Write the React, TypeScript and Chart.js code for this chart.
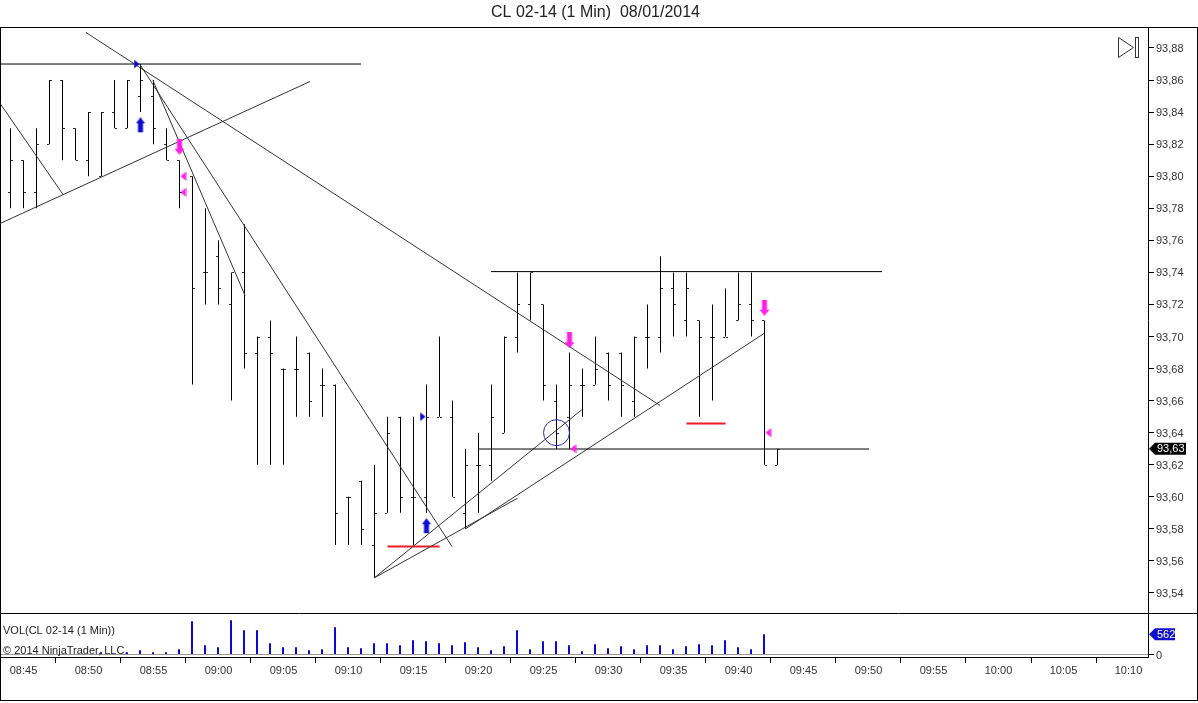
import React, { useEffect, useRef } from "react";
import { Chart, registerables } from "chart.js";

Chart.register(...registerables);

const chartTitle = "CL 02-14 (1 Min)  08/01/2014";
const volumeLabel = "VOL(CL 02-14 (1 Min))";
const copyrightLabel = "© 2014 NinjaTrader, LLC.";

const barTimes = [
  "08:44", "08:45", "08:46", "08:47", "08:48", "08:49", "08:50", "08:51", "08:52", "08:53",
  "08:54", "08:55", "08:56", "08:57", "08:58", "08:59", "09:00", "09:01", "09:02", "09:03",
  "09:04", "09:05", "09:06", "09:07", "09:08", "09:09", "09:10", "09:11", "09:12", "09:13",
  "09:14", "09:15", "09:16", "09:17", "09:18", "09:19", "09:20", "09:21", "09:22", "09:23",
  "09:24", "09:25", "09:26", "09:27", "09:28", "09:29", "09:30", "09:31", "09:32", "09:33",
  "09:34", "09:35", "09:36", "09:37", "09:38", "09:39", "09:40", "09:41", "09:42", "09:43",
];
const highs = [
  93.83, 93.81, 93.83, 93.86, 93.86, 93.83, 93.84, 93.84, 93.86, 93.86,
  93.87, 93.86, 93.83, 93.81, 93.8, 93.78, 93.76, 93.74, 93.77, 93.7,
  93.71, 93.68, 93.7, 93.69, 93.68, 93.67, 93.6, 93.61, 93.62, 93.65,
  93.65, 93.65, 93.67, 93.7, 93.66, 93.63, 93.64, 93.67, 93.7, 93.74,
  93.74, 93.72, 93.67, 93.69, 93.68, 93.7, 93.69, 93.69, 93.7, 93.72,
  93.75, 93.74, 93.74, 93.71, 93.72, 93.73, 93.74, 93.74, 93.71, 93.63,
];
const lows = [
  93.78, 93.78, 93.78, 93.82, 93.81, 93.81, 93.8, 93.8, 93.83, 93.83,
  93.84, 93.82, 93.81, 93.78, 93.67, 93.72, 93.72, 93.66, 93.68, 93.62,
  93.62, 93.62, 93.65, 93.65, 93.65, 93.57, 93.57, 93.57, 93.55, 93.59,
  93.59, 93.57, 93.59, 93.65, 93.6, 93.58, 93.59, 93.61, 93.64, 93.69,
  93.71, 93.66, 93.63, 93.63, 93.65, 93.67, 93.66, 93.65, 93.65, 93.68,
  93.69, 93.7, 93.7, 93.65, 93.66, 93.7, 93.71, 93.7, 93.62, 93.62,
];
const opens = [
  93.79, 93.81, 93.79, 93.82, 93.86, 93.83, 93.81, 93.8, 93.84, 93.83,
  93.85, 93.85, 93.82, 93.81, 93.8, 93.74, 93.75, 93.72, 93.74, 93.69,
  93.7, 93.68, 93.68, 93.69, 93.67, 93.67, 93.6, 93.61, 93.57, 93.59,
  93.65, 93.6, 93.6, 93.65, 93.65, 93.59, 93.62, 93.62, 93.64, 93.7,
  93.72, 93.72, 93.66, 93.65, 93.67, 93.67, 93.69, 93.69, 93.66, 93.7,
  93.7, 93.73, 93.71, 93.71, 93.7, 93.7, 93.71, 93.72, 93.71, 93.62,
];
const closes = [
  93.81, 93.79, 93.82, 93.86, 93.83, 93.81, 93.84, 93.84, 93.83, 93.86,
  93.86, 93.83, 93.81, 93.79, 93.73, 93.74, 93.73, 93.74, 93.69, 93.7,
  93.69, 93.68, 93.68, 93.66, 93.67, 93.59, 93.6, 93.58, 93.59, 93.64,
  93.6, 93.6, 93.65, 93.65, 93.6, 93.62, 93.62, 93.65, 93.7, 93.72,
  93.74, 93.67, 93.64, 93.67, 93.67, 93.68, 93.67, 93.67, 93.7, 93.7,
  93.73, 93.72, 93.73, 93.7, 93.7, 93.7, 93.72, 93.71, 93.62, 93.63,
];
const volumes = [
  0, 0, 0, 0, 0, 0, 0, 65, 0, 65,
  120, 65, 65, 147, 921, 258, 203, 949, 672, 672,
  313, 203, 203, 120, 147, 755, 203, 175, 313, 313,
  258, 396, 368, 313, 258, 341, 203, 120, 230, 672,
  147, 368, 368, 258, 92, 286, 175, 230, 147, 258,
  258, 147, 230, 286, 258, 396, 203, 147, 562, 0,
];

const priceTicks = [
  93.54, 93.56, 93.58, 93.6, 93.62, 93.64, 93.66, 93.68, 93.7,
  93.72, 93.74, 93.76, 93.78, 93.8, 93.82, 93.84, 93.86, 93.88,
];
const timeTicks = [
  "08:45", "08:50", "08:55", "09:00", "09:05", "09:10", "09:15", "09:20", "09:25",
  "09:30", "09:35", "09:40", "09:45", "09:50", "09:55", "10:00", "10:05", "10:10",
];
const lastPrice = 93.63;
const lastVolume = 562;

const toMin = (t: string) => {
  const [h, m] = t.split(":").map(Number);
  return h * 60 + m;
};
const minToLabel = (v: number) => {
  const h = Math.floor(v / 60);
  const m = Math.round(v - h * 60);
  return `${String(h).padStart(2, "0")}:${String(m).padStart(2, "0")}`;
};

// drawing objects: [minute, price] end points, in data units
const levelHigh = [[523.2, 93.87], [550.96, 93.87]];
const fanLong = [[529.8, 93.8897], [573.96, 93.657]];
const riseLeft = [[523.2, 93.7705], [547.04, 93.8591]];
const fallLeft = [[523.2, 93.8454], [528.04, 93.7886]];
const fanMid = [[533.96, 93.8697], [557.96, 93.569]];
const fanShort = [[534.96, 93.8597], [542.04, 93.7256]];
const levelTop = [[560.96, 93.7405], [591.04, 93.7405]];
const levelBottom = [[559.96, 93.6298], [590.04, 93.6298]];
const riseShort = [[551.98, 93.5494], [567.94, 93.6543]];
const riseLong = [[559, 93.58], [582, 93.7021]];
const riseSmall = [[551.98, 93.5494], [563, 93.5991]];
const redLow = [[553, 93.569], [557, 93.569]];
const redHigh = [[576, 93.6458], [579, 93.6458]];
const circleMark = [[566, 93.64]];
const upArrows = [[534, 93.8318], [556, 93.5817]];
const downArrows = [[537, 93.8184], [567, 93.6977], [582, 93.718]];
const leftTriangles = [[537, 93.8], [537, 93.79], [567, 93.63], [582, 93.64]];
const rightTriangles = [[534, 93.87], [556, 93.65]];

const pts = (a: number[][]) => a.map(([x, y]) => ({ x, y }));

const sprite = (w: number, h: number, color: string, path: [number, number][]) => {
  const c = document.createElement("canvas");
  c.width = w;
  c.height = h;
  const g = c.getContext("2d")!;
  g.fillStyle = color;
  g.beginPath();
  path.forEach(([x, y], i) => (i ? g.lineTo(x, y) : g.moveTo(x, y)));
  g.closePath();
  g.fill();
  return c;
};

const BLUE = "#0a0ad2";
const MAGENTA = "#ff1ee6";
const DARK = "#333333";

const framePlugin = {
  id: "frame",
  beforeDraw(chart: any) {
    ["y", "yVol"].forEach((id) => {
      const s = chart.scales[id];
      s.getLabelItems(chart.chartArea).forEach((item: any) => {
        item.textOffset += 1;
      });
    });
  },
  beforeDatasetsDraw(chart: any) {
    const { ctx } = chart;
    ctx.save();
    ctx.strokeStyle = "#000";
    ctx.lineWidth = 1;
    ctx.strokeRect(0.5, 27.5, 1197, 673);
    ctx.beginPath();
    ctx.moveTo(0, 613.5);
    ctx.lineTo(1198, 613.5);
    ctx.stroke();
    ctx.fillStyle = "#222";
    ctx.font = "16px 'Liberation Sans'";
    ctx.textAlign = "center";
    ctx.textBaseline = "middle";
    ctx.fillText(chartTitle, 595.5, 13);
    ctx.restore();
  },
  afterDatasetsDraw(chart: any) {
    const { ctx, scales } = chart;
    const x = scales.x;
    const y = scales.y;
    ctx.save();
    ctx.fillStyle = "#333";
    barTimes.forEach((t, i) => {
      const px = Math.floor(x.getPixelForValue(toMin(t)));
      ctx.fillRect(px - 2, Math.round(y.getPixelForValue(opens[i])), 2, 1);
      ctx.fillRect(px + 1, Math.round(y.getPixelForValue(closes[i])), 2, 1);
    });
    ctx.restore();
  },
  afterDraw(chart: any) {
    const { ctx, scales } = chart;
    ctx.save();
    // replay-to-end icon
    ctx.strokeStyle = DARK;
    ctx.lineWidth = 1;
    ctx.beginPath();
    ctx.moveTo(1118.5, 37.5);
    ctx.lineTo(1133.5, 47.5);
    ctx.lineTo(1118.5, 57.5);
    ctx.closePath();
    ctx.stroke();
    ctx.strokeRect(1135.5, 37.5, 3, 20);
    // pane labels
    ctx.font = "11px 'Liberation Sans'";
    ctx.fillStyle = "#222";
    ctx.textAlign = "left";
    ctx.textBaseline = "middle";
    ctx.fillText(volumeLabel, 3, 631);
    ctx.fillText(copyrightLabel, 3, 651);
    // last-value tags
    const tag = (cy: number, right: number, color: string, label: string) => {
      ctx.fillStyle = color;
      ctx.beginPath();
      ctx.moveTo(1149, cy);
      ctx.lineTo(1155, cy - 6);
      ctx.lineTo(right, cy - 6);
      ctx.lineTo(right, cy + 6);
      ctx.lineTo(1155, cy + 6);
      ctx.closePath();
      ctx.fill();
      ctx.fillStyle = "#fff";
      ctx.textAlign = "left";
      ctx.fillText(label, 1157, cy + 0.5);
    };
    tag(scales.y.getPixelForValue(lastPrice), 1186, "#000", lastPrice.toFixed(2).replace(".", ","));
    tag(scales.yVol.getPixelForValue(lastVolume), 1175, "#1111cc", String(lastVolume));
    ctx.restore();
  },
};

export default function App() {
  const ref = useRef<HTMLCanvasElement>(null);
  useEffect(() => {
    document.body.style.margin = "0";
    document.body.style.background = "#fff";
    const upSprite = sprite(10, 16, BLUE, [[5, 0], [9.5, 6], [7.5, 6], [7.5, 15], [2.5, 15], [2.5, 6], [0.5, 6]]);
    const downSprite = sprite(12, 16, MAGENTA, [[3.5, 0], [8.5, 0], [8.5, 10], [11, 10], [6, 16], [1, 10], [3.5, 10]]);
    const leftSprite = sprite(14, 10, MAGENTA, [[8, 5], [13.5, 0.5], [13.5, 9.5]]);
    const rightSprite = sprite(14, 10, BLUE, [[0.5, 0.5], [6, 5], [0.5, 9.5]]);

    const line = (label: string, data: number[][], color = DARK, width = 1) => ({
      type: "line" as const,
      label,
      data: pts(data),
      xAxisID: "x",
      yAxisID: "y",
      borderColor: color,
      borderWidth: width,
      pointRadius: 0,
      fill: false,
      tension: 0,
      order: 1,
    });
    const marks = (label: string, data: number[][], style: any) => ({
      type: "scatter" as const,
      label,
      data: pts(data),
      xAxisID: "x",
      yAxisID: "y",
      pointStyle: style,
      pointRadius: 8,
      order: 0,
    });

    const xMin = 525 - 23.5 / 13;
    const xMax = xMin + 1148 / 13;
    const priceHeight = 586;
    const volHeight = 44;

    const chart = new Chart(ref.current!, {
      type: "bar",
      data: {
        datasets: [
          {
            label: "High-Low",
            data: barTimes.map((t, i) => ({ x: toMin(t), y: [lows[i], highs[i]] })),
            xAxisID: "x",
            yAxisID: "y",
            backgroundColor: "#000",
            barThickness: 1,
            grouped: false,
            inflateAmount: 0,
            order: 3,
          },
          {
            label: "VOL",
            data: barTimes.map((t, i) => ({ x: toMin(t), y: volumes[i] })),
            xAxisID: "xVol",
            yAxisID: "yVol",
            backgroundColor: BLUE,
            barThickness: 2,
            grouped: false,
            inflateAmount: 0,
            order: 3,
          },
          line("Level high", levelHigh, "#000"),
          line("Fan long", fanLong),
          line("Rise left", riseLeft),
          line("Fall left", fallLeft),
          line("Fan mid", fanMid),
          line("Fan short", fanShort),
          line("Level top", levelTop, "#000"),
          line("Level bottom", levelBottom, "#000"),
          line("Rise short", riseShort),
          line("Rise long", riseLong),
          line("Rise small", riseSmall),
          line("Red low", redLow, "#ee1c25", 2),
          line("Red high", redHigh, "#ee1c25", 2),
          {
            type: "scatter" as const,
            label: "Circle",
            data: pts(circleMark),
            xAxisID: "x",
            yAxisID: "y",
            pointStyle: "circle",
            pointRadius: 13,
            borderColor: "#2a2ac0",
            borderWidth: 1,
            backgroundColor: "transparent",
            order: 0,
          },
          marks("Up", upArrows, upSprite),
          marks("Down", downArrows, downSprite),
          marks("Left", leftTriangles, leftSprite),
          marks("Right", rightTriangles, rightSprite),
        ] as any,
      },
      options: {
        animation: false,
        responsive: false,
        layout: { autoPadding: false, padding: { top: 27, left: 0, right: 0, bottom: 0 } },
        plugins: { legend: { display: false }, tooltip: { enabled: false } },
        events: [],
        scales: {
          x: {
            type: "linear",
            position: "bottom",
            min: xMin,
            max: xMax,
            offset: false,
            afterBuildTicks: (s: any) => {
              s.ticks = timeTicks.map((t) => ({ value: toMin(t) }));
            },
            afterFit: (s: any) => {
              s.height = 46;
            },
            ticks: {
              autoSkip: false,
              maxRotation: 0,
              padding: 1,
              color: "#333",
              font: { family: "'Liberation Sans'", size: 11 },
              callback: (v: any) => minToLabel(Number(v)),
            },
            border: { color: "#000", width: 1 },
            grid: { drawOnChartArea: false, tickLength: 6, tickColor: "#000" },
          },
          xVol: {
            type: "linear",
            display: false,
            min: xMin + 0.5 / 13,
            max: xMax + 0.5 / 13,
            offset: false,
          },
          y: {
            type: "linear",
            position: "right",
            stack: "panes",
            stackWeight: priceHeight,
            weight: 1,
            min: 93.5275,
            max: 93.8931,
            beginAtZero: false,
            afterBuildTicks: (s: any) => {
              s.ticks = priceTicks.map((value) => ({ value }));
            },
            afterFit: (s: any) => {
              s.width = 50;
            },
            ticks: {
              autoSkip: false,
              padding: 2,
              color: "#333",
              font: { family: "'Liberation Sans'", size: 11 },
              callback: (v: any) => Number(v).toFixed(2).replace(".", ","),
            },
            border: { color: "#000", width: 1 },
            grid: { drawOnChartArea: false, tickLength: 6, tickColor: "#000" },
          },
          yVol: {
            type: "linear",
            position: "right",
            stack: "panes",
            stackWeight: volHeight,
            weight: 2,
            min: -69,
            max: 1148,
            afterBuildTicks: (s: any) => {
              s.ticks = [{ value: 0 }];
            },
            afterFit: (s: any) => {
              s.width = 50;
            },
            ticks: {
              autoSkip: false,
              padding: 2,
              color: "#333",
              font: { family: "'Liberation Sans'", size: 11 },
            },
            border: { color: "#000", width: 1 },
            grid: { color: "#999999", tickLength: 6, tickColor: "#000" },
          },
        },
      } as any,
      plugins: [framePlugin],
    });
    return () => chart.destroy();
  }, []);
  return <canvas ref={ref} width={1198} height={703} style={{ display: "block", width: 1198, height: 703 }} />;
}
